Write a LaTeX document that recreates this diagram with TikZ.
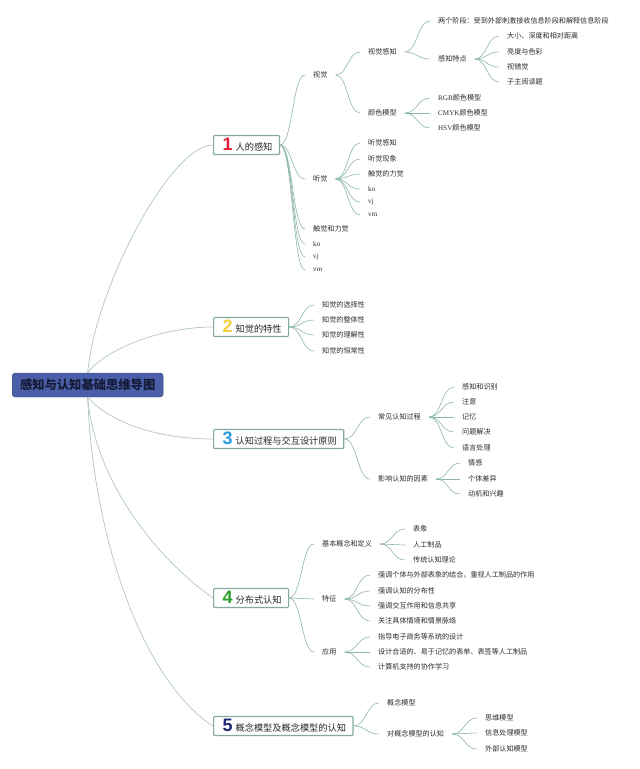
\documentclass[tikz,border=0pt]{standalone}
\usepackage{fontspec}
\setmainfont{Liberation Serif}
\setsansfont{Liberation Sans}
\newfontfamily\cjk{Noto Sans CJK SC}
\usepackage{tikz}
\usetikzlibrary{calc}
\definecolor{trunkcol}{HTML}{AFC6C1}
\definecolor{linkcol}{HTML}{8DB6AA}
\definecolor{boxline}{HTML}{82AAA0}
\definecolor{rootfill}{HTML}{4A5FA8}
\definecolor{rootink}{HTML}{141A36}
\definecolor{leaftext}{HTML}{2B2B2B}
\definecolor{numred}{HTML}{E0203A}
\definecolor{numyellow}{HTML}{F2D03C}
\definecolor{numblue}{HTML}{2B9BE0}
\definecolor{numgreen}{HTML}{2AA02A}
\definecolor{numnavy}{HTML}{1E2A78}
\tikzset{
  x=1pt,y=-1pt,
  root/.style={
    draw=rootfill!80!black,fill=rootfill,rounded corners=3pt,anchor=west,
    minimum width=151pt,minimum height=24pt,text=rootink,
    font=\cjk\bfseries\fontsize{12.3}{14}\selectfont
  },
  topic/.style={
    draw=boxline,line width=1.2pt,fill=white,rounded corners=1pt,anchor=west,
    minimum height=19pt,inner xsep=7pt,inner ysep=2pt,text=black!85,
    font=\cjk\fontsize{9.2}{11}\selectfont
  },
  leaf/.style={anchor=west,xshift=-8pt,inner xsep=8pt,inner ysep=1pt,
    text=leaftext,font=\cjk\fontsize{7.1}{8}\selectfont},
  trunk/.style={draw=trunkcol,line width=0.7pt},
  link/.style={draw=linkcol,line width=0.6pt,
    to path={.. controls ($(\tikztostart)!.5!(\tikztotarget|-\tikztostart)$)
      and ($(\tikztotarget)!.5!(\tikztostart|-\tikztotarget)$) .. (\tikztotarget)}}
}
\newcommand{\numtag}[2]{\hspace*{2pt}{\sffamily\bfseries\fontsize{18}{18}\selectfont\color{#1}#2}\hspace{3pt}}

\begin{document}
\begin{tikzpicture}
  \useasboundingbox (0,0) rectangle (640,769);

  % Root and main topics
  \node[root] at (12,385) (map){感知与认知基础思维导图};
  \node[topic] at (213,145) (t1){\numtag{numred}{1}人的感知};
  \node[topic] at (213,327) (t2){\numtag{numyellow}{2}知觉的特性};
  \node[topic] at (213,439) (t3){\numtag{numblue}{3}认知过程与交互设计原则};
  \node[topic] at (213,598) (t4){\numtag{numgreen}{4}分布式认知};
  \node[topic] at (213,726) (t5){\numtag{numnavy}{5}概念模型及概念模型的认知};

  \draw[trunk] (map.north) .. controls +(7,-83) and +(-43,0) .. (t1.west);
  \draw[trunk] (map.north) .. controls +(17,-23) and +(-53,0) .. (t2.west);
  \draw[trunk] (map.south) .. controls +(20,23) and +(-60,0) .. (t3.west);
  \draw[trunk] (map.south) .. controls +(8,90) and +(-50,-35) .. (t4.west);
  \draw[trunk] (map.south) .. controls +(5,140) and +(-70,-45) .. (t5.west);

  % Topic 1
  \node[leaf] at (313,75) (vis){视觉};
  \node[leaf] at (313,179) (aud){听觉};
  \node[leaf] at (313,229) (touch){触觉和力觉};
  \node[leaf] at (313,244) (koa){\textrm{ko}};
  \node[leaf] at (313,257) (vja){\textrm{vj}};
  \node[leaf] at (313,270) (vma){\textrm{vm}};
  \foreach \c in {vis,aud,touch,koa,vja,vma}
    \draw[link] (t1.east) to (\c.west);

  \node[leaf] at (368,52) (visp){视觉感知};
  \node[leaf] at (368,113) (cmod){颜色模型};
  \foreach \c in {visp,cmod}
    \draw[link] (vis.east) to (\c.west);

  \node[leaf] at (438,21) (stage){两个阶段：受到外部刺激接收信息阶段和解释信息阶段};
  \node[leaf] at (438,59) (feat){感知特点};
  \foreach \c in {stage,feat}
    \draw[link] (visp.east) to (\c.west);

  \node[leaf] at (507,36) (size){大小、深度和相对距离};
  \node[leaf] at (507,52) (bright){亮度与色彩};
  \node[leaf] at (507,67) (illus){视错觉};
  \node[leaf] at (507,82) (read){子主阅读题};
  \foreach \c in {size,bright,illus,read}
    \draw[link] (feat.east) to (\c.west);

  \node[leaf] at (438,98) (rgb){\textrm{RGB}颜色模型};
  \node[leaf] at (438,113) (cmyk){\textrm{CMYK}颜色模型};
  \node[leaf] at (438,128) (hsv){\textrm{HSV}颜色模型};
  \foreach \c in {rgb,cmyk,hsv}
    \draw[link] (cmod.east) to (\c.west);

  \node[leaf] at (368,143) (audp){听觉感知};
  \node[leaf] at (368,159) (audph){听觉现象};
  \node[leaf] at (368,174) (force){触觉的力觉};
  \node[leaf] at (368,189) (kob){\textrm{ko}};
  \node[leaf] at (368,202) (vjb){\textrm{vj}};
  \node[leaf] at (368,215) (vmb){\textrm{vm}};
  \foreach \c in {audp,audph,force,kob,vjb,vmb}
    \draw[link] (aud.east) to (\c.west);

  % Topic 2
  \node[leaf] at (322,305) (sel){知觉的选择性};
  \node[leaf] at (322,320) (whole){知觉的整体性};
  \node[leaf] at (322,335) (under){知觉的理解性};
  \node[leaf] at (322,351) (const){知觉的恒常性};
  \foreach \c in {sel,whole,under,const}
    \draw[link] (t2.east) to (\c.west);

  % Topic 3
  \node[leaf] at (378,417) (proc){常见认知过程};
  \node[leaf] at (378,479) (factor){影响认知的因素};
  \foreach \c in {proc,factor}
    \draw[link] (t3.east) to (\c.west);

  \node[leaf] at (462,387) (recog){感知和识别};
  \node[leaf] at (462,402) (atten){注意};
  \node[leaf] at (462,417) (memo){记忆};
  \node[leaf] at (462,432) (solve){问题解决};
  \node[leaf] at (462,448) (lang){语言处理};
  \foreach \c in {recog,atten,memo,solve,lang}
    \draw[link] (proc.east) to (\c.west);

  \node[leaf] at (468,463) (emo){情感};
  \node[leaf] at (468,479) (indiv){个体差异};
  \node[leaf] at (468,494) (motiv){动机和兴趣};
  \foreach \c in {emo,indiv,motiv}
    \draw[link] (factor.east) to (\c.west);

  % Topic 4
  \node[leaf] at (322,544) (basic){基本概念和定义};
  \node[leaf] at (322,599) (trait){特征};
  \node[leaf] at (322,652) (appl){应用};
  \foreach \c in {basic,trait,appl}
    \draw[link] (t4.east) to (\c.west);

  \node[leaf] at (413,529) (repr){表象};
  \node[leaf] at (413,545) (artif){人工制品};
  \node[leaf] at (413,560) (trad){传统认知理论};
  \foreach \c in {repr,artif,trad}
    \draw[link] (basic.east) to (\c.west);

  \node[leaf] at (378,575) (tra){强调个体与外部表象的结合，重视人工制品的作用};
  \node[leaf] at (378,591) (trb){强调认知的分布性};
  \node[leaf] at (378,606) (trc){强调交互作用和信息共享};
  \node[leaf] at (378,621) (trd){关注具体情境和情景脉络};
  \foreach \c in {tra,trb,trc,trd}
    \draw[link] (trait.east) to (\c.west);

  \node[leaf] at (378,637) (apa){指导电子商务等系统的设计};
  \node[leaf] at (378,652) (apb){设计合适的、易于记忆的表单、表签等人工制品};
  \node[leaf] at (378,667) (apc){计算机支持的协作学习};
  \foreach \c in {apa,apb,apc}
    \draw[link] (appl.east) to (\c.west);

  % Topic 5
  \node[leaf] at (387,703) (cmodel){概念模型};
  \node[leaf] at (387,734) (cogm){对概念模型的认知};
  \foreach \c in {cmodel,cogm}
    \draw[link] (t5.east) to (\c.west);

  \node[leaf] at (485,718) (mental){思维模型};
  \node[leaf] at (485,733) (infop){信息处理模型};
  \node[leaf] at (485,749) (extc){外部认知模型};
  \foreach \c in {mental,infop,extc}
    \draw[link] (cogm.east) to (\c.west);
\end{tikzpicture}
\end{document}
